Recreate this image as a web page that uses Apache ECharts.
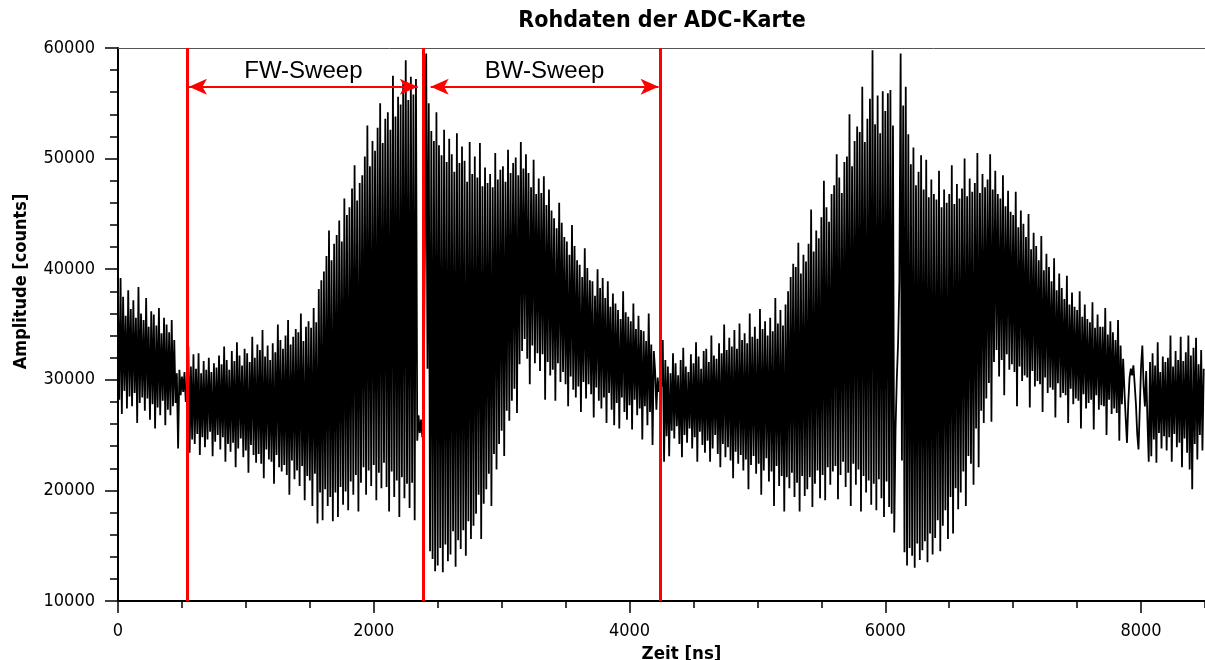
<!DOCTYPE html>
<html>
<head>
<meta charset="utf-8">
<script src="https://cdn.jsdelivr.net/npm/echarts@6/dist/echarts.min.js"></script>
<style>
html,body{margin:0;padding:0;background:#fff;}
#chart{width:1205px;height:660px;}
</style>
</head>
<body>
<div id="chart"></div>
<script>
const chartTitle = 'Rohdaten der ADC-Karte';
const xAxisName = 'Zeit [ns]';
const yAxisName = 'Amplitude [counts]';
const sampleStepNs = 10;
const amplitudeCounts = [
36800,28200,39200,26900,37500,29000,35800,27400,38100,28500,
36400,27600,37200,28800,35600,26100,38400,27900,36000,28400,
35400,27200,37400,28300,34800,26400,36200,27800,35900,25600,
34900,27500,36500,26800,34200,28100,35600,25900,35000,27300,
34300,26800,35400,27600,33600,27900,30600,23800,30900,28600,
30300,28900,30700,28000,29200,33000,23400,31200,24600,32300,
24200,31000,25100,32400,23200,30600,24800,31700,23900,30900,
24600,32000,25300,30700,23100,31500,24400,31100,25000,32200,
23700,31400,24800,33000,22600,31800,24200,30900,23500,32600,
24300,31700,22100,33400,23800,32200,24700,31300,23000,32800,
23600,32400,21600,31600,24100,33900,23200,32000,22500,33200,
23300,32700,22400,34500,21100,32100,23700,33100,22800,31800,
22600,33300,20600,32500,23200,35000,22100,33600,21700,32800,
22300,34000,21400,35400,19600,33200,22700,33900,21000,34600,
21800,34300,20400,36000,22200,33500,19100,34800,21300,35300,
20900,34700,18600,36500,21500,35200,17000,38200,19800,39000,
17300,39800,20100,41200,18600,43500,19400,40800,17200,42300,
19800,43100,17600,44400,20300,42500,18700,46400,19900,44900,
18200,45600,20800,47300,19600,49400,21400,46200,18100,47800,
20700,48500,22100,50200,19600,53000,21800,49300,20400,51600,
22300,50700,19100,52800,21600,55000,20200,51400,22500,53600,
20300,54200,18100,52600,21700,57500,19400,53800,20900,55600,
17600,54900,21200,56800,19300,58900,20600,55300,18400,57400,
20700,55800,17300,57200,24500,26800,25200,26400,24800,27500,
43000,59500,31000,55000,14500,52500,13800,51600,12700,54200,
13200,51200,14800,50300,12600,52600,15100,49700,13600,51800,
14200,50400,16300,48800,13100,52300,15500,49600,14700,51100,
16400,49800,14100,47900,17200,51500,15600,48600,16800,50200,
17900,48300,19600,51400,15600,47500,18800,49200,20100,47800,
21500,48600,18600,47400,23300,50500,21900,48100,24200,49000,
25400,49300,23100,47900,27200,50800,26300,48700,28100,49600,
29200,50100,27000,48500,31400,51500,32600,49100,33700,50400,
31900,48700,29600,47400,33100,49900,31500,46800,32400,48200,
30800,46900,32300,48400,28200,45800,31600,47200,30400,45300,
30900,44600,28100,43700,31500,46000,29800,44200,30700,42900,
29600,42500,27600,41300,30300,44000,29100,42100,28400,40800,
29400,40400,27100,39300,29800,41900,28300,40100,29600,39000,
28700,38900,26600,37600,29300,40000,28100,38300,27400,39200,
28400,37400,26100,38900,28800,36600,27300,37800,25900,36900,
27900,36300,25600,35500,28400,38000,27100,36100,26400,35700,
27700,35300,25500,36900,28200,34600,26800,35800,27400,34500,
24600,34400,27600,33500,25900,36000,27100,33200,24100,32600,
30800,27300,30200,28900,30000,29400,33600,22600,31800,24900,
31200,23100,30600,25400,32400,24700,31500,25800,30400,24200,
31800,23000,32900,25000,31200,24300,30700,25600,32300,23800,
31500,24800,33400,22600,32100,25300,31000,24100,32600,23400,
32800,24500,31600,22600,34000,23800,32200,25000,31900,23300,
33300,22100,32400,24200,35000,23000,32700,23900,33800,22700,
33000,21100,34500,23500,32800,22400,35100,23200,33600,21800,
34200,22800,33300,20100,36000,22300,33900,23100,34800,21500,
33700,22400,36400,19600,34600,21800,35300,22900,34000,20800,
35600,21700,34400,18600,37400,22200,35100,20400,36300,21300,
34900,18100,36800,21200,38000,20200,39300,21600,40500,19400,
40200,20700,42400,18100,39600,21300,41300,19500,40700,20100,
42300,21200,45400,18500,41600,20600,43500,21800,42800,19300,
44700,21400,48000,19100,45600,22100,44300,20500,46800,21700,
47600,22200,50400,19200,48300,21400,46900,22600,49700,20300,
50200,21600,54000,18600,49300,22400,51600,20500,52900,21900,
52400,18100,56500,21300,51500,19800,53600,20900,55400,18700,
59800,20600,53100,18200,55700,21000,52300,19300,56100,17600,
54300,20800,55900,18500,56200,17900,53000,16200,25500,30100,
33300,38800,59500,22700,54800,14400,56500,13200,52200,14800,
49500,14100,51000,13000,47600,15200,48800,13700,50300,14600,
47200,15400,49900,13500,46500,16100,48100,14200,46800,15700,
46300,17300,48900,14500,45600,16800,47200,18200,46000,15600,
46800,19400,49400,16100,45900,20200,47700,18300,46400,19800,
47300,21700,50000,18600,46600,23100,48200,22400,47000,20500,
47800,25600,50500,22100,46900,27200,48600,26100,47400,28300,
48100,29700,50400,26200,47200,31600,48900,32700,46800,30300,
46400,31800,48500,28600,45700,32300,47100,30900,45200,31400,
44900,30700,47000,27600,43800,31200,45300,29900,44100,30400,
42900,30200,45000,27500,41800,30800,43300,29400,42100,29900,
40800,29600,43000,27100,39900,30200,41400,28800,40200,29300,
38900,29100,41000,26600,38100,29700,39600,28400,38300,28800,
37300,28600,39400,26100,36800,29200,37900,27800,36600,28300,
36300,28100,38000,25600,35700,28700,36800,27400,35500,27900,
35200,28200,37000,25500,34700,28600,35900,27300,34800,27700,
34800,27600,36500,25000,34100,28200,35300,26900,34300,27400,
33600,27000,35400,24500,33100,27800,31900,29000,26500,24300,
27900,30200,31000,30400,31300,29600,27800,25100,23700,27400,
31200,33100,29400,27600,30800,26300,22600,31600,23100,32400,
24600,31300,22500,33400,25200,30700,23800,32100,24900,31600,
23600,32000,24800,34000,22600,31200,25100,32600,23900,31800,
24300,33900,22100,31700,24700,32500,23400,34000,21900,32200,
20100,32900,24200,33800,22800,31400,25000,32700,23600,31000
];
const xTickLabels = [0, 2000, 4000, 6000, 8000];
const yTickLabels = [10000, 20000, 30000, 40000, 50000, 60000];
const sweepBoundariesNs = [540, 2390, 4240];
const sweepNames = ['FW-Sweep', 'BW-Sweep'];
const sweepArrowStartNs = [555, 2445];
const sweepArrowEndNs = [2344, 4227];
const sweepArrowLevel = 56500;

const FONT = "'DejaVu Sans Condensed', 'DejaVu Sans', sans-serif";
const RED = '#ff0000';
const AX = { color: '#000', width: 2 };
const TK = { color: '#000', width: 1.5 };
const plain = v => String(v);

const signal = amplitudeCounts.map((v, i) => [i * sampleStepNs, v]);

const markData = sweepBoundariesNs.map(x => ({
  xAxis: x,
  lineStyle: { color: RED, width: 3, type: 'solid' },
  label: { show: false }
}));
sweepNames.forEach((n, i) => {
  markData.push([
    { name: n, coord: [sweepArrowStartNs[i], sweepArrowLevel], symbol: 'arrow', symbolSize: [12, 18],
      lineStyle: { color: RED, width: 2, type: 'solid' },
      label: { show: true, position: 'insideMiddleTop', distance: 3, formatter: n, color: '#000',
               fontFamily: "'Liberation Sans', Arial, sans-serif", fontSize: 24 } },
    { coord: [sweepArrowEndNs[i], sweepArrowLevel], symbol: 'arrow', symbolSize: [12, 18] }
  ]);
});

const chart = echarts.init(document.getElementById('chart'), null, { renderer: 'canvas' });
chart.setOption({
  animation: false,
  backgroundColor: '#fff',
  title: {
    text: chartTitle, left: 662, top: 10, textAlign: 'center', padding: 0,
    textStyle: { fontFamily: FONT, fontWeight: 'bold', fontSize: 23, color: '#000' }
  },
  grid: { left: 118, right: 0, top: 48, bottom: 59, containLabel: false, outerBoundsMode: 'none' },
  xAxis: [
    {
      type: 'value', min: 0, max: 8500, interval: 500, position: 'bottom',
      axisLine: { show: true, onZero: false, lineStyle: AX },
      axisTick: { show: true, inside: false, length: 7, lineStyle: TK },
      axisLabel: { show: true, customValues: xTickLabels, formatter: plain, margin: 21, color: '#000', fontFamily: FONT, fontSize: 18 },
      splitLine: { show: false },
      name: xAxisName, nameLocation: 'middle', nameGap: 38,
      nameTextStyle: { fontFamily: FONT, fontWeight: 'bold', fontSize: 18.5, color: '#000', padding: [0, 0, 0, 40] }
    },
    {
      type: 'value', min: 0, max: 8500, position: 'bottom',
      axisLine: { show: false, onZero: false },
      axisTick: { show: true, inside: false, customValues: xTickLabels, length: 12, lineStyle: TK },
      axisLabel: { show: false }, splitLine: { show: false }
    },
    {
      type: 'value', min: 0, max: 8500, position: 'top',
      axisLine: { show: true, onZero: false, lineStyle: { color: '#555', width: 1 } },
      axisTick: { show: false }, axisLabel: { show: false }, splitLine: { show: false }
    }
  ],
  yAxis: {
    type: 'value', min: 10000, max: 60000, interval: 10000,
    axisLine: { show: true, onZero: false, lineStyle: AX },
    axisTick: { show: true, inside: false, length: 13, lineStyle: TK },
    minorTick: { show: true, splitNumber: 5, length: 8, lineStyle: TK },
    minorSplitLine: { show: false },
    axisLabel: { show: true, customValues: yTickLabels, formatter: plain, margin: 23, color: '#000', fontFamily: FONT, fontSize: 18 },
    splitLine: { show: false },
    name: yAxisName, nameLocation: 'middle', nameGap: 88, nameRotate: 90,
    nameTextStyle: { fontFamily: FONT, fontWeight: 'bold', fontSize: 18, color: '#000', padding: [0, 0, 0, 86] }
  },
  series: [{
    type: 'line', xAxisIndex: 0, yAxisIndex: 0,
    data: signal, showSymbol: false, symbol: 'none',
    lineStyle: { color: '#000', width: 1.8 },
    emphasis: { disabled: true },
    markLine: { silent: true, symbol: ['none', 'none'], animation: false, data: markData }
  }]
});
</script>
</body>
</html>
